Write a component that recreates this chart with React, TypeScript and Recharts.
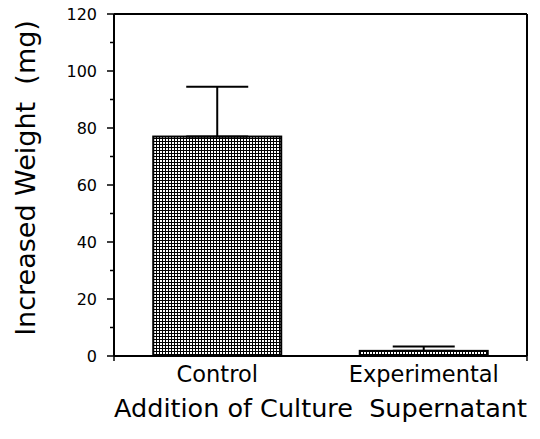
import React from 'react';
import { BarChart, Bar, XAxis, YAxis, ErrorBar, Label } from 'recharts';

const categories = ['Control', 'Experimental'];
const values = [77, 1.8];
const upperErrors = [17.5, 1.5];
const yTicks = [0, 10, 20, 30, 40, 50, 60, 70, 80, 90, 100, 110, 120];
const boundaryTicks = [0, 1, 2];
const yTitle = 'Increased Weight  (mg)';
const xTitle = 'Addition of Culture  Supernatant';

const data = categories.map((name, i) => ({
  name,
  value: values[i],
  err: [0, upperErrors[i]],
}));

const FONT = 'DejaVu Sans, Liberation Sans, sans-serif';

const YTick = (props: any) => {
  const { x, y, payload } = props;
  const major = payload.value % 20 === 0;
  return (
    <g>
      <line x1={x - (major ? 7 : 4)} x2={x} y1={y} y2={y} stroke="#000" strokeWidth={1.5} />
      {major && (
        <text x={x - 17} y={y + 6} textAnchor="end" fontSize={16} fontFamily={FONT} fill="#000">
          {payload.value}
        </text>
      )}
    </g>
  );
};

const XTick = (props: any) => {
  const { x, y, payload } = props;
  return (
    <text x={x} y={y + 25} textAnchor="middle" fontSize={22.5} fontFamily={FONT} fill="#000">
      {payload.value}
    </text>
  );
};

const BoundaryTick = (props: any) => {
  const { x, y } = props;
  return <line x1={x} x2={x} y1={y - 1} y2={y + 5} stroke="#000" strokeWidth={1.5} />;
};

const HatchBar = (props: any) => {
  const { x, y, width, height } = props;
  return (
    <g>
      <defs>
        <pattern id="hatch" x="0" y="0" width="3" height="3" patternUnits="userSpaceOnUse">
          <rect x="0" y="0" width="3" height="3" fill="#fff" />
          <rect x="0" y="0" width="1" height="3" fill="#000" />
          <rect x="0" y="0" width="3" height="1" fill="#000" />
        </pattern>
      </defs>
      <rect x={x} y={y} width={width} height={height} fill="url(#hatch)" stroke="#000" strokeWidth={2} />
    </g>
  );
};

export default function App() {
  return (
    <div style={{ position: 'absolute', left: 0, top: 0, background: '#fff' }}>
      <BarChart
        width={540}
        height={439}
        data={data}
        margin={{ top: 13, right: 12, left: 0, bottom: 0 }}
        barCategoryGap="19%"
      >
        <XAxis
          xAxisId={0}
          type="number"
          domain={[0, 2]}
          ticks={boundaryTicks}
          interval={0}
          height={1}
          axisLine={{ stroke: '#000', strokeWidth: 2 }}
          tickLine={false}
          tickSize={0}
          tickMargin={0}
          tick={<BoundaryTick />}
          orientation="bottom"
        />
        <XAxis
          xAxisId={1}
          dataKey="name"
          height={82}
          axisLine={false}
          tickLine={false}
          tickSize={0}
          tickMargin={0}
          tick={<XTick />}
          interval={0}
        >
          <Label
            content={(p: any) => {
              const vb = p.viewBox || {};
              return (
                <text
                  x={vb.x + vb.width / 2}
                  y={vb.y + 60}
                  textAnchor="middle"
                  fontSize={25.5}
                  fontFamily={FONT}
                  fill="#000"
                  style={{ whiteSpace: 'pre' }}
                >
                  {xTitle}
                </text>
              );
            }}
          />
        </XAxis>
        <XAxis
          xAxisId="top"
          type="number"
          domain={[0, 2]}
          orientation="top"
          height={1}
          tick={false}
          tickLine={false}
          axisLine={{ stroke: '#000', strokeWidth: 2 }}
        />
        <YAxis
          domain={[0, 120]}
          ticks={yTicks}
          interval={0}
          width={114}
          axisLine={{ stroke: '#000', strokeWidth: 2 }}
          tickLine={false}
          tickSize={0}
          tickMargin={0}
          tick={<YTick />}
        >
          <Label
            content={(p: any) => {
              const vb = p.viewBox || {};
              const cx = 35;
              const cy = vb.y + vb.height / 2 - 7;
              return (
                <text
                  x={cx}
                  y={cy}
                  transform={`rotate(-90, ${cx}, ${cy})`}
                  textAnchor="middle"
                  fontSize={27}
                  fontFamily={FONT}
                  fill="#000"
                  style={{ whiteSpace: 'pre' }}
                >
                  {yTitle}
                </text>
              );
            }}
          />
        </YAxis>
        <YAxis
          yAxisId="right"
          orientation="right"
          domain={[0, 120]}
          width={1}
          tick={false}
          tickLine={false}
          axisLine={{ stroke: '#000', strokeWidth: 2 }}
        />
        <Bar dataKey="value" xAxisId={1} isAnimationActive={false} shape={<HatchBar />}>
          <ErrorBar dataKey="err" width={31} stroke="#000" strokeWidth={2} direction="y" />
        </Bar>
      </BarChart>
    </div>
  );
}
